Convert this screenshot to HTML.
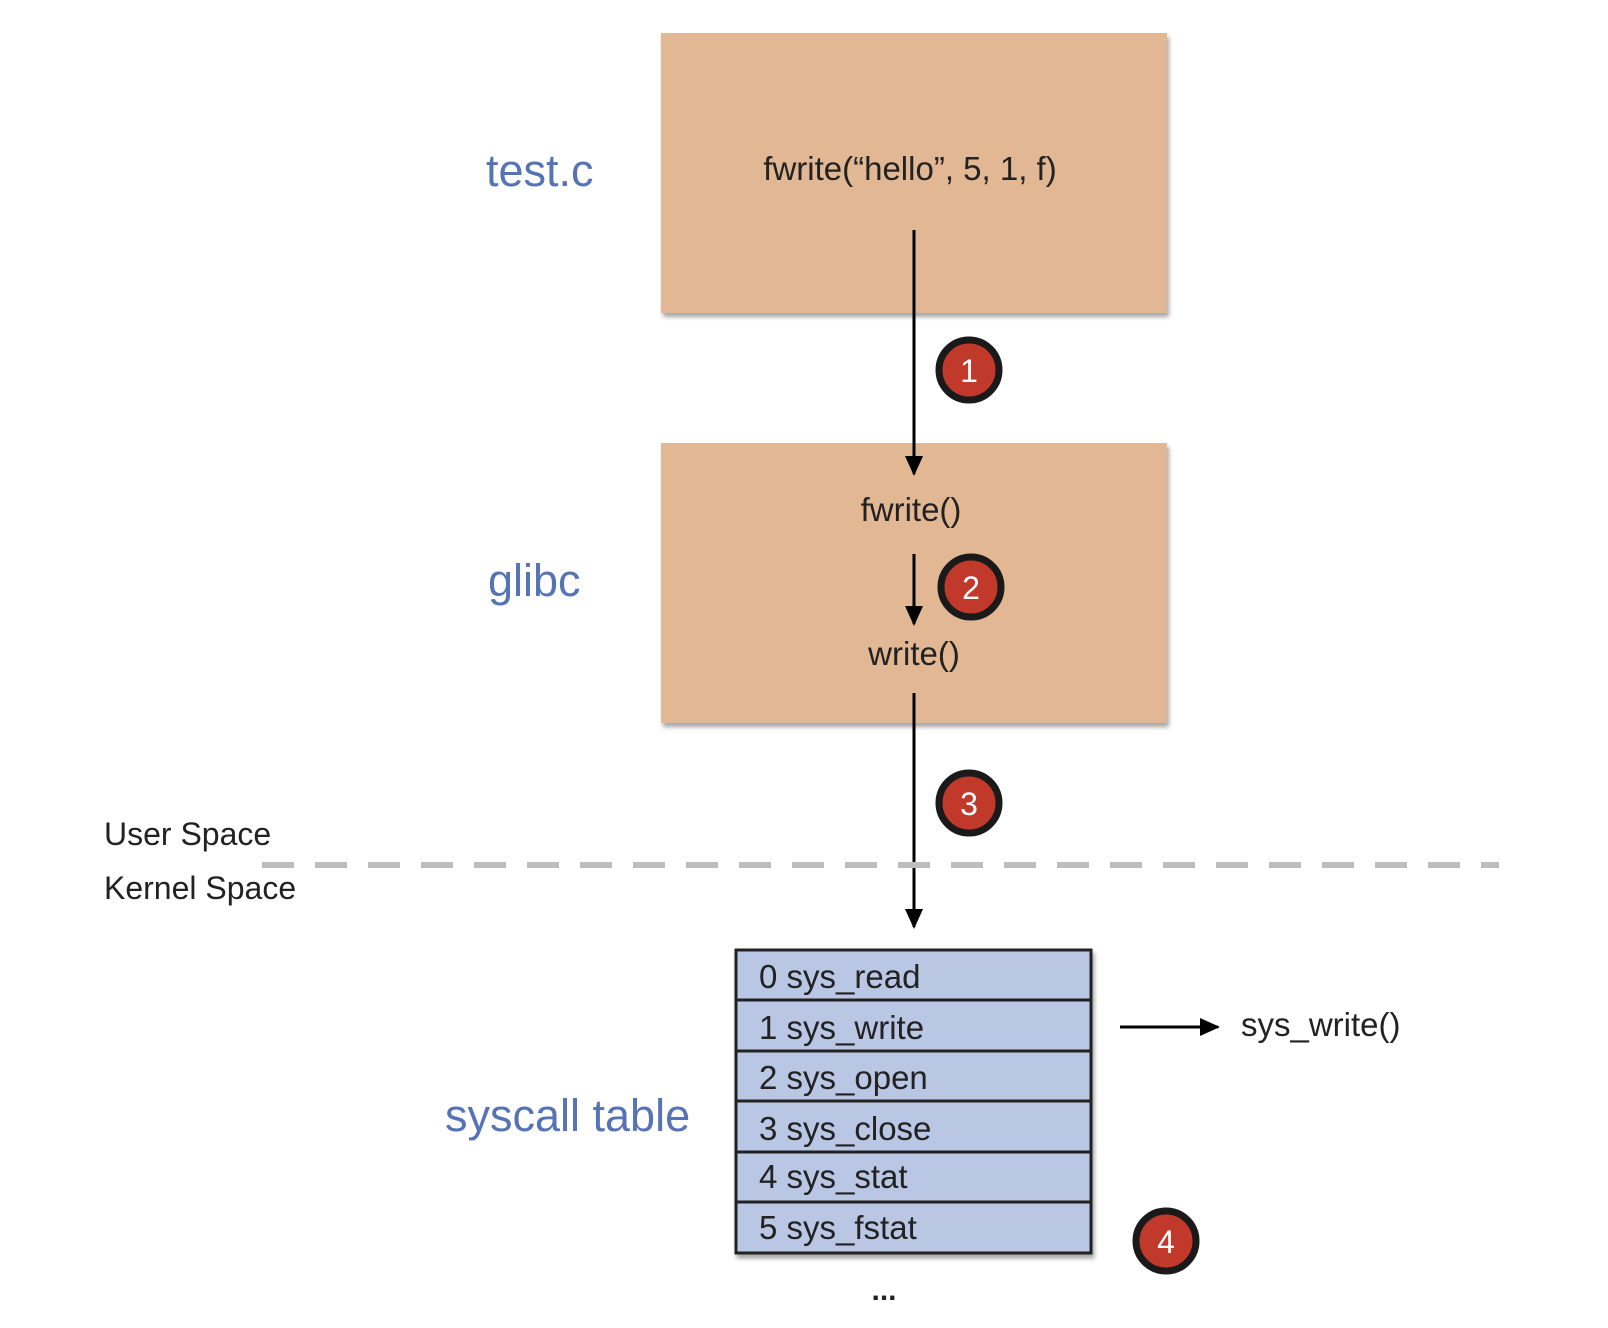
<!DOCTYPE html>
<html><head><meta charset="utf-8"><style>
html,body{margin:0;padding:0;background:#fff;}
svg{display:block;font-family:"Liberation Sans",sans-serif;}
</style></head><body>
<svg width="1608" height="1328" viewBox="0 0 1608 1328">
<defs>
<marker id="ah" markerWidth="20" markerHeight="18" refX="18" refY="9" orient="auto" markerUnits="userSpaceOnUse"><path d="M0,0 L20,9 L0,18 z" fill="#000"/></marker>
<filter id="sh" x="-5%" y="-5%" width="110%" height="115%"><feDropShadow dx="2" dy="4" stdDeviation="2" flood-color="#000" flood-opacity="0.35"/></filter>
</defs>
<rect x="661" y="33" width="506" height="280" fill="#e2b794" filter="url(#sh)"/>
<rect x="661" y="443" width="506" height="280" fill="#e2b794" filter="url(#sh)"/>
<text x="486" y="186" font-size="45" fill="#5573b5">test.c</text>
<text x="488" y="596" font-size="45" fill="#5573b5">glibc</text>
<text x="445" y="1131" font-size="45" fill="#5573b5">syscall table</text>
<text x="910" y="180" font-size="33" text-anchor="middle" fill="#222">fwrite(“hello”, 5, 1, f)</text>
<text x="911" y="521" font-size="33" text-anchor="middle" fill="#222">fwrite()</text>
<text x="914" y="665" font-size="33" text-anchor="middle" fill="#222">write()</text>
<line x1="914" y1="230" x2="914" y2="474" stroke="#000" stroke-width="3" marker-end="url(#ah)"/>
<line x1="914" y1="554" x2="914" y2="624" stroke="#000" stroke-width="3" marker-end="url(#ah)"/>
<line x1="914" y1="693" x2="914" y2="927" stroke="#000" stroke-width="3" marker-end="url(#ah)"/>
<line x1="262" y1="865" x2="1499" y2="865" stroke="#bdbdbd" stroke-width="6" stroke-dasharray="32,21"/>
<text x="104" y="845" font-size="32" fill="#222">User Space</text>
<text x="104" y="899" font-size="32" fill="#222">Kernel Space</text>
<g><circle cx="969" cy="370" r="30" fill="#c0392b" stroke="#1a1a1a" stroke-width="7"/><text x="969" y="382" font-size="32" fill="#fff" text-anchor="middle">1</text></g>
<g><circle cx="971" cy="587" r="30" fill="#c0392b" stroke="#1a1a1a" stroke-width="7"/><text x="971" y="599" font-size="32" fill="#fff" text-anchor="middle">2</text></g>
<g><circle cx="969" cy="803" r="30" fill="#c0392b" stroke="#1a1a1a" stroke-width="7"/><text x="969" y="815" font-size="32" fill="#fff" text-anchor="middle">3</text></g>
<g><circle cx="1166" cy="1241" r="30" fill="#c0392b" stroke="#1a1a1a" stroke-width="7"/><text x="1166" y="1253" font-size="32" fill="#fff" text-anchor="middle">4</text></g>
<g filter="url(#sh)">
<rect x="736" y="950" width="355" height="303" fill="#b9c6e4" stroke="#222" stroke-width="3"/>
<line x1="736" y1="1000" x2="1091" y2="1000" stroke="#222" stroke-width="3"/>
<line x1="736" y1="1051" x2="1091" y2="1051" stroke="#222" stroke-width="3"/>
<line x1="736" y1="1101" x2="1091" y2="1101" stroke="#222" stroke-width="3"/>
<line x1="736" y1="1152" x2="1091" y2="1152" stroke="#222" stroke-width="3"/>
<line x1="736" y1="1202" x2="1091" y2="1202" stroke="#222" stroke-width="3"/>
</g>
<g font-size="33" fill="#222">
<text x="759" y="988">0 sys_read</text>
<text x="759" y="1039">1 sys_write</text>
<text x="759" y="1089">2 sys_open</text>
<text x="759" y="1140">3 sys_close</text>
<text x="759" y="1188">4 sys_stat</text>
<text x="759" y="1239">5 sys_fstat</text>
</g>
<line x1="1120" y1="1027" x2="1218" y2="1027" stroke="#000" stroke-width="3" marker-end="url(#ah)"/>
<text x="1241" y="1036" font-size="33" fill="#222">sys_write()</text>
<text x="884" y="1300" font-size="30" font-weight="bold" text-anchor="middle" fill="#222">...</text>
</svg>
</body></html>
